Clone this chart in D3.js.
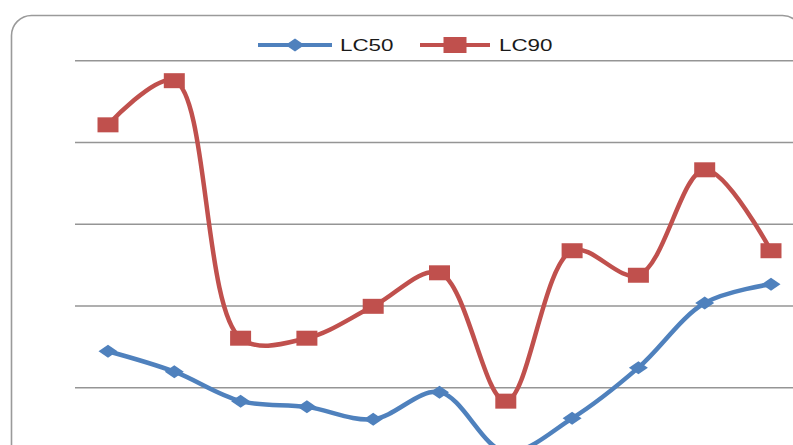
<!DOCTYPE html>
<html>
<head>
<meta charset="utf-8">
<script src="https://cdn.jsdelivr.net/npm/d3@7"></script>
<style>
  html, body { margin: 0; padding: 0; background: #ffffff; }
  svg { display: block; }
</style>
</head>
<body>
<script>
// Sample points along the x axis
const categories = ["1", "2", "3", "4", "5", "6", "7", "8", "9", "10", "11"];
// Series values
const lc50 = [1.44, 1.19, 0.83, 0.76, 0.61, 0.94, 0.21, 0.62, 1.24, 2.03, 2.26];
const lc90 = [4.21, 4.75, 1.60, 1.60, 1.99, 2.40, 0.83, 2.67, 2.37, 3.66, 2.67];
// Horizontal gridline values
const gridTicks = [1, 2, 3, 4, 5];
const seriesNames = ["LC50", "LC90"];

const W = 793, H = 445;
const BLUE = "#4f81bd", RED = "#c0504d";
const SX = 1.4; // horizontal stretch applied to the legend text

const svg = d3.select("body").append("svg")
  .attr("width", W).attr("height", H);

// chart area frame (rounded), continues past the right and bottom edges
svg.append("rect")
  .attr("x", 11.5).attr("y", 15.5)
  .attr("width", 791).attr("height", 490)
  .attr("rx", 20).attr("ry", 20)
  .attr("fill", "#ffffff")
  .attr("stroke", "#9a9a9a")
  .attr("stroke-width", 1.6);

const x = d3.scalePoint().domain(categories).range([108, 771]);
const y = d3.scaleLinear().domain([0, 5]).range([469, 60.25]);

// gridlines
const gridAxis = d3.axisLeft(y).tickValues(gridTicks)
  .tickSize(-(W + 20 - 75)).tickFormat("");
const g = svg.append("g").attr("transform", "translate(75,0)").call(gridAxis);
g.select(".domain").remove();
g.selectAll(".tick line").attr("stroke", "#959595").attr("stroke-width", 1.3);

const line = d3.line()
  .x((d, i) => x(categories[i]))
  .y(d => y(d))
  .curve(d3.curveCatmullRom.alpha(0.5));

// markers
const diamond = (cx, cy, w, h) =>
  `M${cx},${cy - h / 2}L${cx + w / 2},${cy}L${cx},${cy + h / 2}L${cx - w / 2},${cy}Z`;

function drawSeries(vals, color, kind) {
  svg.append("path").datum(vals)
    .attr("d", line)
    .attr("fill", "none")
    .attr("stroke", color)
    .attr("stroke-width", 4.5)
    .attr("stroke-linejoin", "round");
  const m = svg.append("g").selectAll("path").data(vals).join("path")
    .attr("fill", color);
  if (kind === "square") {
    m.attr("d", (d, i) => {
      const cx = x(categories[i]), cy = y(d);
      return `M${cx - 10.5},${cy - 7.5}h21v15h-21Z`;
    });
  } else {
    m.attr("d", (d, i) => diamond(x(categories[i]), y(d), 19, 13));
  }
}

drawSeries(lc50, BLUE, "diamond");
drawSeries(lc90, RED, "square");

// legend
const legend = svg.append("g");
const legendItems = [
  { name: seriesNames[0], color: BLUE, x0: 258, x1: 332, kind: "diamond", tx: 340 },
  { name: seriesNames[1], color: RED, x0: 420, x1: 490, kind: "square", tx: 499 }
];
legendItems.forEach(it => {
  legend.append("line")
    .attr("x1", it.x0).attr("x2", it.x1).attr("y1", 45).attr("y2", 45)
    .attr("stroke", it.color).attr("stroke-width", 4);
  const cx = (it.x0 + it.x1) / 2;
  if (it.kind === "diamond") {
    legend.append("path").attr("d", diamond(cx, 45, 19, 13)).attr("fill", it.color);
  } else {
    legend.append("rect").attr("x", cx - 11.5).attr("y", 37)
      .attr("width", 23).attr("height", 16).attr("fill", it.color);
  }
  legend.append("text")
    .attr("transform", `translate(${it.tx},51) scale(${SX},1)`)
    .attr("font-family", "Liberation Sans, Arial, sans-serif")
    .attr("font-size", 16)
    .attr("fill", "#1a1a1a")
    .text(it.name);
});
</script>
</body>
</html>
